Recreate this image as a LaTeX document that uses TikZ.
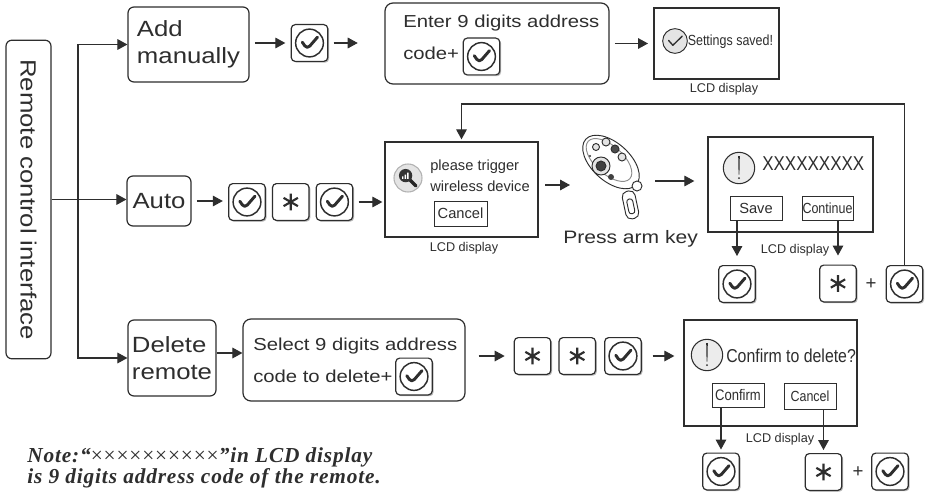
\documentclass[tikz,border=0pt]{standalone}
\usepackage{fontspec}
\setmainfont{Liberation Sans}
\newfontfamily\rcwide{Liberation Sans}[FakeStretch=1.17]
\newfontfamily\rcnarrow{Liberation Sans}[FakeStretch=0.85]
\newfontfamily\rcnote{Liberation Serif}[LetterSpace=4]
\usepackage{xcolor}
\definecolor{rcline}{HTML}{2E2E2E}
\definecolor{rcshade}{HTML}{B8B8B8}
\definecolor{rcicon}{HTML}{E4E4E4}
\usepackage{tikz}
\usetikzlibrary{arrows.meta,positioning,shadows}
\newcommand\rcbig{\rcwide\fontsize{16.5}{20}\selectfont}
\newcommand\rcmid{\rcwide\fontsize{13}{15}\selectfont}
\newcommand\rclcd{\fontsize{11}{13}\selectfont}
\tikzset{
  rcbox/.style={draw=rcline,rounded corners=4.5pt,line width=0.9pt,inner sep=0pt},
  lcdbox/.style={draw=rcline,line width=1pt,inner sep=0pt},
  rcbtn/.style={draw=rcline,line width=0.75pt,inner sep=0pt,minimum width=39pt,minimum height=18pt,font=\rclcd},
  rckey/.style={draw=rcline,fill=white,rounded corners=3pt,line width=0.9pt,minimum width=27.4pt,minimum height=27.6pt,inner sep=0pt,
    drop shadow={shadow xshift=1pt,shadow yshift=-1pt,fill=rcshade,opacity=1}},
  okkey/.style={rckey,path picture={
    \draw[rcline,line width=1.1pt,shift={(path picture bounding box.center)}] (0,0) circle[radius=10.4pt];
    \draw[rcline,line width=2.2pt,line cap=round,line join=round,shift={(path picture bounding box.center)}]
      (-5.4pt,0.6pt) -- (-1.8pt,-4.6pt) -- (6pt,4.4pt);}},
  starkey/.style={rckey,path picture={
    \draw[rcline,line width=1.6pt,shift={(path picture bounding box.center)}]
      (90:6.2pt) -- (270:6.2pt) (30:6.2pt) -- (210:6.2pt) (150:6.2pt) -- (330:6.2pt);}},
  saveicon/.style={circle,draw=rcline,fill=rcicon,line width=0.7pt,minimum size=18.5pt,inner sep=0pt,path picture={
    \draw[rcline,line width=1pt,line cap=round,line join=round,shift={(path picture bounding box.center)}]
      (-4.8pt,0.4pt) -- (-1.6pt,-3.2pt) -- (5.4pt,3.6pt);}},
  warnicon/.style={circle,draw=rcline,fill=rcicon!70,line width=0.8pt,minimum size=23.5pt,inner sep=0pt,path picture={
    \fill[rcline,shift={(path picture bounding box.center)}] (-0.6pt,9pt) -- (0.6pt,9pt) -- (0.3pt,-5pt) -- (-0.3pt,-5pt) -- cycle;
    \fill[rcline,shift={(path picture bounding box.center)}] (0,-7.6pt) circle[radius=0.8pt];}},
  searchicon/.style={circle,draw=black!30,fill=rcicon,line width=0.8pt,minimum size=21pt,inner sep=0pt,path picture={
    \draw[black!85,line width=2.6pt,line cap=round,shift={(path picture bounding box.center)}] (1.6pt,-1.6pt) -- (6pt,-6pt);
    \fill[black!80,shift={(path picture bounding box.center)}] (-1.8pt,1.8pt) circle[radius=5pt];
    \fill[white,shift={(path picture bounding box.center)}] (-4.4pt,-0.6pt) rectangle (-3.4pt,1.2pt)
      (-2.5pt,-0.6pt) rectangle (-1.5pt,2.6pt) (-0.6pt,-0.6pt) rectangle (0.4pt,4pt);}},
  rcflow/.style={draw=rcline,line width=0.8pt,-{Triangle[length=7.5pt,width=8pt]}},
  rcgap/.style={rcflow,shorten <=4pt,shorten >=4pt},
  lcdtag/.style={anchor=base,inner sep=0pt,font=\fontsize{9.5}{11}\selectfont},
  rctext/.style={anchor=base west,inner sep=0pt},
}

\begin{document}
\begin{tikzpicture}[x=0.75pt,y=-0.75pt,color=rcline]
\fill[white] (0,0) rectangle (928,492);
\useasboundingbox (0,0) rectangle (928,492);

% menu column
\node[rcbox,rotate=-90,minimum width=239pt,minimum height=33.75pt,font=\rcbig] (rc) at (28.5,199.5) {Remote control interface};
\node[rcbox,minimum width=90.75pt,minimum height=56.25pt,font=\rcbig,align=left] (add) at (188.5,44.5) {Add\\manually};
\node[rcbox,minimum width=48pt,minimum height=37.5pt,font=\rcbig] (auto) at (159,201) {Auto};
\node[rcbox,minimum width=66pt,minimum height=57pt,font=\rcbig,align=left] (del) at (172,358) {Delete\\remote};
\coordinate (fork) at (78,199.5);
\draw[rcflow] (fork) |- (add.west);
\draw[rcflow] (rc.north) -- (rc.north -| auto.west);
\draw[rcflow] (fork) |- (del.west);

% add manually
\node[okkey] (ok1) at (309.5,43) {};
\node[rcbox,rounded corners=6pt,minimum width=168pt,minimum height=60.75pt] (enter) at (497,43.5) {};
\node[rctext,font=\rcmid] (entera) at (403,28) {Enter 9 digits address};
\node[rctext,font=\rcmid] (enterb) at (403,60) {code+};
\node[okkey] (enterok) at (481.5,56.5) {};
\node[lcdbox,minimum width=93.75pt,minimum height=53.25pt] (saved) at (716.5,43.5) {};
\node[saveicon] (savedicon) at (675,41) {};
\node[rctext,font=\rcnarrow\fontsize{11}{13}\selectfont] (savedtxt) at (687.5,46) {Settings saved!};
\node[lcdtag] (savedtag) at (724,93) {LCD display};
\draw[rcgap] (add.east |- ok1) -- (ok1);
\draw[rcflow,shorten <=4pt,shorten >=20pt] (ok1.east) -- (ok1.east -| enter.west);
\draw[rcgap] (enter) -- (saved);

% auto
\node[okkey] (ok2a) at (247,202) {};
\node[starkey,right=4.5pt of ok2a] (st2) {};
\node[okkey,right=4.5pt of st2] (ok2b) {};
\draw[rcgap] (auto.east) -- (auto.east -| ok2a.west);
\node[lcdbox,minimum width=114.75pt,minimum height=71.25pt] (scan) at (461.5,189.5) {};
\draw[rcflow,shorten <=4pt,shorten >=1.5pt] (ok2b.east) -- (ok2b.east -| scan.west);
\node[searchicon] (scanicon) at (408,178) {};
\node[rctext,font=\rclcd] (scana) at (430,170) {please trigger};
\node[rctext,font=\rclcd] (scanb) at (430,191) {wireless device};
\node[rcbtn,minimum width=39.75pt,minimum height=18.75pt] (cancela) at (460.5,213.5) {Cancel};
\node[lcdtag] (scantag) at (464,251) {LCD display};

% key fob
\node[inner sep=0pt,minimum width=45pt,minimum height=63pt] (fob) at (613,175) {};
\begin{scope}[line width=0.7pt]
\draw[rotate around={12:(630,205)},rounded corners=4pt] (624,191) rectangle (637,219);
\draw[rotate around={12:(630,205)},rounded corners=2pt] (627.5,199) rectangle (633.5,214);
\draw[fill=white,rotate around={-42:(611,162)}] (611,162) ellipse [x radius=34,y radius=19];
\draw[black!45,rotate around={-42:(609,160)}] (609,160) ellipse [x radius=28,y radius=14];
\draw[fill=white] (637,186) circle [radius=5];
\draw[fill=rcicon] (596,147) circle [radius=3.5];
\draw[fill=rcicon] (606,142) circle [radius=4];
\draw[fill=black!70] (615,149) circle [radius=4];
\draw[fill=rcicon] (622,157) circle [radius=4];
\draw[fill=rcicon] (601,166) circle [radius=9];
\draw[fill=black!75] (601,166) circle [radius=5];
\fill[black!75] (611,177) circle [radius=3];
\fill (590,156) circle [radius=1.2];
\end{scope}
\node[rctext,font=\rcwide\fontsize{13.5}{15}\selectfont] (press) at (563,243) {Press arm key};
\coordinate (fobin) at (570,185);
\coordinate (fobout) at (655,181);
\draw[rcflow,shorten <=5pt] (scan.east |- fobin) -- (fobin);

% remote found
\node[lcdbox,minimum width=123.75pt,minimum height=71.25pt] (found) at (790.5,184.5) {};
\draw[rcflow,shorten >=9.75pt] (fobout) -- (fobout -| found.west);
\node[warnicon] (warna) at (739,168) {};
\node[rctext,font=\rcnarrow\fontsize{15}{17}\selectfont] (code) at (762,170) {XXXXXXXXX};
\node[rcbtn] (save) at (756,208) {Save};
\node[rcbtn,minimum width=38.25pt,font=\rcnarrow\fontsize{11}{13}\selectfont] (cont) at (827.5,208) {Continue};
\node[lcdtag] (foundtag) at (795,253) {LCD display};
\node[okkey] (okd) at (737,284) {};
\node[starkey] (stc) at (838,283.5) {};
\node[font=\fontsize{14}{14}\selectfont] (plusa) at (871,284) {+};
\node[okkey] (okc) at (904.5,284) {};
\draw[rcflow,shorten >=6.75pt] (save.south -| okd) -- (okd.north);
\draw[rcflow,shorten >=6.75pt] (cont.south -| stc) -- (stc.north);
\draw[rcflow,shorten >=1.5pt] (okc.north) -- ++(0,-161) -| (scan.north);

% delete remote
\node[rcbox,rounded corners=6pt,minimum width=166.5pt,minimum height=61.5pt] (sel) at (354,360) {};
\node[rctext,font=\rcmid] (sela) at (253,350) {Select 9 digits address};
\node[rctext,font=\rcmid] (selb) at (253,382) {code to delete+};
\node[okkey] (selok) at (414,376.5) {};
\draw[rcflow] ([yshift=3.75pt]del.east) -- ([yshift=3.75pt]del.east -| sel.west);
\node[starkey] (std1) at (532.5,356) {};
\node[starkey,right=5.25pt of std1] (std2) {};
\node[okkey,right=6pt of std2] (okdel) {};
\draw[rcflow,shorten <=9.75pt,shorten >=6.75pt] (sel.east |- std1) -- (std1);
\node[lcdbox,minimum width=129.75pt,minimum height=79.5pt] (dellcd) at (770.5,373) {};
\draw[rcflow,shorten <=8pt,shorten >=6.75pt] (okdel) -- (okdel -| dellcd.west);
\node[warnicon] (warnb) at (707,355) {};
\node[rctext,font=\rcnarrow\fontsize{14}{16}\selectfont] (ask) at (726,362) {Confirm to delete?};
\node[rcbtn,font=\rcnarrow\fontsize{11.5}{13}\selectfont] (confirm) at (738,395.5) {Confirm};
\node[rcbtn,minimum height=19.5pt,font=\rcnarrow\fontsize{11}{13}\selectfont] (cancelb) at (810,396) {Cancel};
\node[lcdtag] (deltag) at (780,442) {LCD display};
\node[okkey] (oke) at (721,471.5) {};
\node[starkey] (stf) at (823.5,472) {};
\node[font=\fontsize{14}{14}\selectfont] (plusb) at (858,472) {+};
\node[okkey] (okf) at (890,471.5) {};
\draw[rcflow,shorten >=2.25pt] (confirm.south -| oke) -- (oke.north);
\draw[rcflow,shorten >=2.25pt] (cancelb.south -| stf) -- (stf.north);

% footnote
\node[rctext,font=\rcnote\bfseries\itshape\fontsize{16}{21}\selectfont] (notea) at (27,462)
  {Note:“{\mdseries\upshape\fontsize{16}{16}\selectfont ××××××××××}”in LCD display};
\node[rctext,font=\rcnote\bfseries\itshape\fontsize{16}{21}\selectfont] (noteb) at (27,483)
  {is 9 digits address code of the remote.};
\end{tikzpicture}
\end{document}
